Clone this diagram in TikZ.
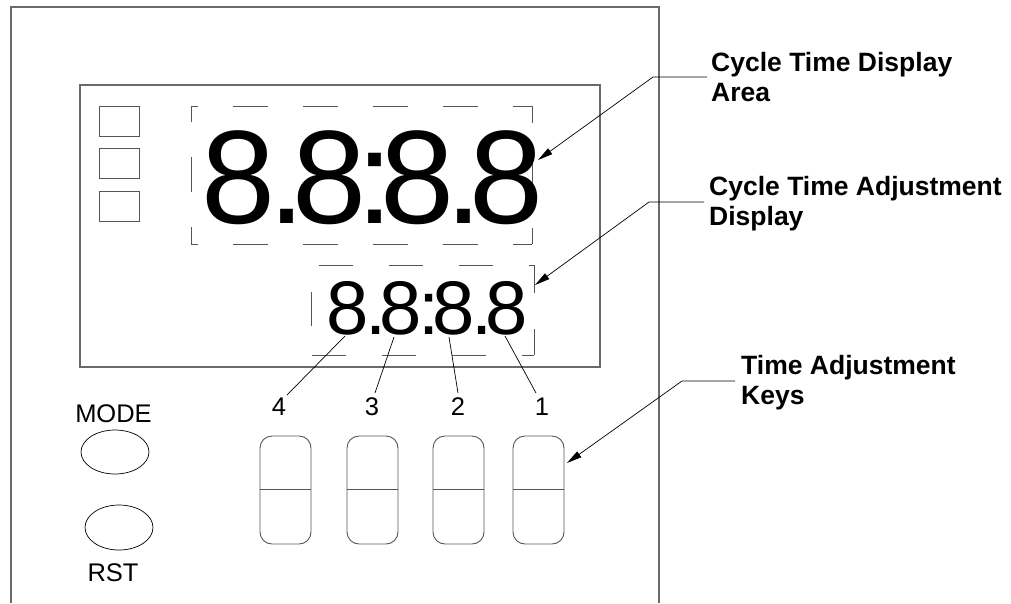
\documentclass[tikz,border=0pt]{standalone}
\usepackage{fontspec}
\setmainfont{Liberation Sans}
\usetikzlibrary{arrows.meta,shapes.geometric}
\definecolor{frame}{HTML}{6A6A6A}
\definecolor{lcd}{HTML}{555555}
\tikzset{
  framebox/.style={draw=frame, line width=1.3pt},
  lcdline/.style={draw=lcd, line width=0.9pt},
  dashA/.style={draw=lcd, line width=0.9pt, dash pattern=on 35pt off 35pt},
  dashB/.style={draw=lcd, line width=0.9pt, dash pattern=on 34pt off 36pt},
  keybox/.style={draw=lcd, line width=0.9pt, rounded corners=12pt},
  btn/.style={draw=black, line width=0.7pt},
  leader/.style={draw=black, line width=0.7pt},
  pointer/.style={draw=black, line width=0.7pt, -{Triangle[length=15pt,width=7pt]}},
  callout/.style={anchor=north west, inner sep=0pt, align=left, font=\fontsize{26.5}{30}\selectfont\bfseries},
  plain/.style={inner sep=0pt, font=\fontsize{25.5}{28}\selectfont},
}
\begin{document}
\begin{tikzpicture}[x=1pt, y=-1pt]
\useasboundingbox (0,0) rectangle (1011,603);
% outer frame (open at bottom)
\draw[framebox] (11,603) -- (11,7) -- (659,7) -- (659,603);
% display window
\draw[framebox, line width=1.1pt] (80,85) rectangle (600,367);
% indicator squares
\foreach \y/\n in {106/a,148/b,191/c}
  \draw[lcdline] (99,\y) rectangle (139,\y+30);
% large dashed area
\draw[dashA, dash phase=28pt] (191,106) -- (532,106);
\draw[dashA, dash phase=18pt] (532,106) -- (532,244);
\draw[dashA, dash phase=16pt] (532,244) -- (191,244);
\draw[dashA, dash phase=18pt] (191,244) -- (191,106);
% small dashed area
\draw[dashB, dash phase=62pt] (311,265) -- (534,265);
\draw[dashB, dash phase=6pt] (534,265) -- (534,355);
\draw[dashB, dash phase=22pt] (534,355) -- (311,355);
\draw[dashB, dash phase=41pt] (311,355) -- (311,265);
% large digits
\node[anchor=base west, inner sep=0pt, font=\fontsize{133}{133}\selectfont] (big) at (201,223)
  {8\kern-7pt.\kern-13pt8\kern-10pt:\kern-13pt8\kern-9pt.\kern-12pt8};
% small digits
\node[anchor=base west, inner sep=0pt, font=\fontsize{76}{76}\selectfont] (small) at (326,334)
  {8\kern-3pt.\kern-7pt8\kern-3pt:\kern-7pt8\kern-4pt.\kern-7pt8};
% digit index labels
\node[plain] (n4) at (279,407) {4};
\node[plain] (n3) at (372,407) {3};
\node[plain] (n2) at (458,407) {2};
\node[plain] (n1) at (542,407) {1};
\coordinate (d4) at (345,336);
\coordinate (d3) at (394,337);
\coordinate (d2) at (449,337);
\coordinate (d1) at (505,336);
\draw[leader] (d4) -- (287,395);
\draw[leader] (d3) -- (375,393);
\draw[leader] (d2) -- (458,393);
\draw[leader] (d1) -- (536,393);
% mode / rst buttons
\node[plain] (mode) at (113.5,413.5) {MODE};
\node[btn, ellipse, minimum width=68pt, minimum height=44pt, inner sep=0pt] (modeb) at (115,452) {};
\node[btn, ellipse, minimum width=68pt, minimum height=45pt, inner sep=0pt] (rstb) at (119,527.5) {};
\node[plain] (rst) at (113,573) {RST};
% adjustment keys
\foreach \x/\n in {260/k4,347/k3,433/k2,513/k1}{
  \draw[keybox] (\x,436) rectangle (\x+51,544);
  \draw[lcdline] (\x,489) -- (\x+51,489);
}
% callouts
\node[callout] (c1) at (711,52.5) {Cycle Time Display\\Area};
\node[callout] (c2) at (709,175.7) {Cycle Time Adjustment\\Display};
\node[callout] (c3) at (741,355) {Time Adjustment\\Keys};
\coordinate (t1) at (538,160);
\coordinate (t2) at (535,285);
\coordinate (t3) at (567,463);
\draw[pointer] (707,77) -- (653,77) -- (t1);
\draw[pointer] (704,202) -- (649,202) -- (t2);
\draw[pointer] (735,381) -- (682,381) -- (t3);
\end{tikzpicture}
\end{document}
